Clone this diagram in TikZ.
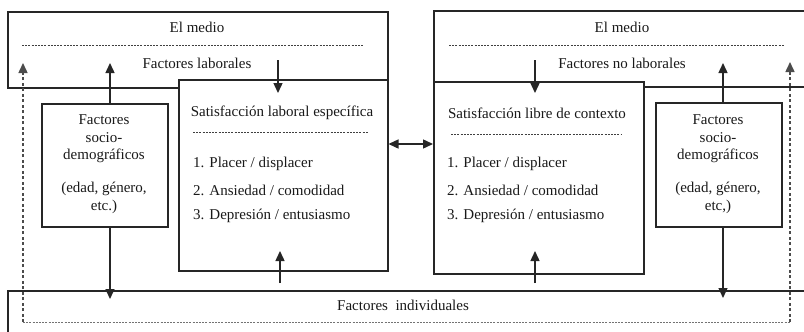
\documentclass[tikz,border=0pt]{standalone}
\usepackage{fontspec}
\setmainfont{Liberation Serif}
\usetikzlibrary{arrows.meta}
\begin{document}
\begin{tikzpicture}[x=1pt,y=-1pt,
  box/.style={draw=black!85, line width=1.5pt, fill=white, inner sep=0pt, anchor=north west},
  txt/.style={font=\fontsize{15}{18}\selectfont, inner sep=0pt, text=black!90},
  arr/.style={line width=1.4pt, draw=black!85, -{Triangle[length=10pt,width=9pt]}},
  sep/.style={line width=0.7pt, draw=black!75, dash pattern=on 2pt off 1.2pt},
  dots/.style={line width=1.5pt, draw=black!70, dash pattern=on 3pt off 2.5pt},
  dotarr/.style={dots, -{Triangle[length=10pt,width=9pt]}}]
\clip (0,0) rectangle (804,332);
\fill[white] (0,0) rectangle (804,332);

% left side
\node[box, minimum width=380pt, minimum height=76pt] (medioL) at (7,11) {};
\node[box, minimum width=209pt, minimum height=191pt] (satL) at (178,79) {};
% right side
\node[box, minimum width=390pt, minimum height=76pt] (medioR) at (433,10) {};
\node[box, minimum width=210pt, minimum height=192pt] (satR) at (433,81) {};
% bottom
\node[box, minimum width=820pt, minimum height=70pt] (indiv) at (7,290) {};
% socio boxes
\node[box, minimum width=126pt, minimum height=123pt] (socL) at (41,103) {};
\node[box, minimum width=126pt, minimum height=124pt] (socR) at (655,102) {};

% texts top
\node[txt] (tML1) at (197,27) {El medio};
\node[txt] (tML2) at (197,63) {Factores laborales};
\draw[sep] (22,45) -- (363,45);
\node[txt] (tMR1) at (622,27) {El medio};
\node[txt] (tMR2) at (622,63) {Factores no laborales};
\draw[sep] (449,45) -- (784,45);

% satisfaction texts
\node[txt] (tSL) at (282,113) {Satisfacción laboral específica};
\draw[sep] (193,132) -- (368,132);
\node[txt, anchor=west] (sl1) at (193,164) {1. Placer / displacer};
\node[txt, anchor=west] (sl2) at (193,190) {2. Ansiedad / comodidad};
\node[txt, anchor=west] (sl3) at (193,216) {3. Depresión / entusiasmo};

\node[txt] (tSR) at (537,113) {Satisfacción libre de contexto};
\draw[sep] (451,134) -- (622,134);
\node[txt, anchor=west] (sr1) at (447,164) {1. Placer / displacer};
\node[txt, anchor=west] (sr2) at (447,190) {2. Ansiedad / comodidad};
\node[txt, anchor=west] (sr3) at (447,216) {3. Depresión / entusiasmo};

% socio texts
\node[txt] at (104,120) {Factores};
\node[txt] at (104,138) {socio-};
\node[txt] at (104,156) {demográficos};
\node[txt] at (104,189) {(edad, género,};
\node[txt] at (104,207) {etc.)};
\node[txt] at (718,120) {Factores};
\node[txt] at (718,138) {socio-};
\node[txt] at (718,156) {demográficos};
\node[txt] at (718,189) {(edad, género,};
\node[txt] at (718,207) {etc,)};

% bottom text
\node[txt] (tI) at (403,305) {Factores\ \ individuales};
\draw[line width=1pt, draw=black!55, dash pattern=on 2pt off 1.2pt] (23,322) -- (790,322);

% coordinates for arrow ends
\coordinate (a1) at (110,63);
\coordinate (a2s) at (278,60);
\coordinate (a2e) at (278,93);
\coordinate (a3) at (110,299);
\coordinate (a4s) at (280,283);
\coordinate (a4e) at (280,251);
\coordinate (a6s) at (535,60);
\coordinate (a6e) at (535,93);
\coordinate (a7) at (723,63);
\coordinate (a8) at (723,298);
\coordinate (a9s) at (535,283);
\coordinate (a9e) at (535,251);
\coordinate (dL) at (23,63);
\coordinate (dLb) at (23,322);
\coordinate (dR) at (790,62);
\coordinate (dRb) at (790,322);

\draw[arr] (a1 |- socL.north) -- (a1);
\draw[arr] (a2s) -- (a2e);
\draw[arr] (a3 |- socL.south) -- (a3);
\draw[arr] (a4s) -- (a4e);
\draw[line width=1.4pt, draw=black!85, {Triangle[length=10pt,width=9pt]}-{Triangle[length=10pt,width=9pt]}] (satL.east |- 0,144) -- (satR.west |- 0,144);
\draw[arr] (a6s) -- (a6e);
\draw[arr] (a7 |- socR.north) -- (a7);
\draw[arr] (a8 |- socR.south) -- (a8);
\draw[arr] (a9s) -- (a9e);
\draw[dotarr] (dLb) -- (dL);
\draw[dotarr] (dRb) -- (dR);
\end{tikzpicture}
\end{document}
